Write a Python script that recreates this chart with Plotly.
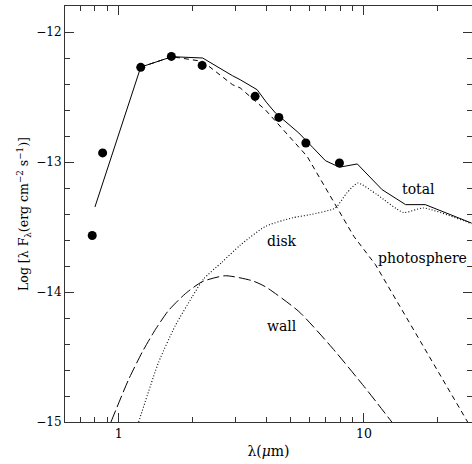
import numpy as np
import plotly.graph_objects as go

# Observed photometry
obs_wavelength = [0.78, 0.86, 1.23, 1.64, 2.19, 3.6, 4.5, 5.8, 7.95]
obs_logflux = [-13.565, -12.93, -12.272, -12.188, -12.257, -12.495, -12.657, -12.854, -13.008]

# Model: total
total_wavelength = [0.80, 1.23, 1.65, 2.2, 2.91, 3.13, 3.67, 4.0, 4.36, 5.0, 5.43, 6.2, 6.97, 7.95, 9.4, 11.87, 14.8, 17.8, 27.5]
total_logflux = [-13.346, -12.27, -12.19, -12.20, -12.336, -12.367, -12.444, -12.54, -12.623, -12.72, -12.777, -12.89, -12.99, -13.04, -13.015, -13.213, -13.328, -13.328, -13.47]

# Model: photosphere
phot_wavelength = [1.23, 1.65, 2.2, 2.91, 3.13, 3.97, 5.87, 9.1, 11.15, 26.5]
phot_logflux = [-12.27, -12.19, -12.226, -12.405, -12.43, -12.6, -12.957, -13.572, -13.79, -15.0]

# Model: disk
disk_wavelength = [1.206, 1.455, 1.70, 1.99, 2.22, 2.64, 3.13, 3.97, 5.1, 6.03, 7.64, 8.52, 9.45, 11.3, 14.5, 17.5, 27.5]
disk_logflux = [-15.0, -14.54, -14.26, -14.04, -13.90, -13.77, -13.64, -13.495, -13.43, -13.405, -13.354, -13.238, -13.162, -13.25, -13.388, -13.354, -13.475]

# Model: wall
wall_wavelength = [0.93, 1.097, 1.25, 1.41, 1.594, 1.87, 2.19, 2.72, 3.50, 3.97, 5.43, 7.43, 10.15, 13.0]
wall_logflux = [-15.0, -14.674, -14.459, -14.29, -14.144, -14.013, -13.921, -13.875, -13.913, -13.96, -14.15, -14.43, -14.74, -15.0]

x_major_ticks = [1, 10]
x_minor_ticks = [0.7, 0.8, 0.9, 2, 3, 4, 5, 6, 7, 8, 9, 20]
y_major_ticks = [-15, -14, -13, -12]

labels = ["total", "disk", "photosphere", "wall"]

FONT = "DejaVu Serif"
INK = "#000000"

fig = go.Figure()
fig.add_trace(go.Scatter(x=total_wavelength, y=total_logflux, mode="lines",
                         line=dict(color=INK, width=1), showlegend=False))
fig.add_trace(go.Scatter(x=phot_wavelength, y=phot_logflux, mode="lines",
                         line=dict(color=INK, width=1, dash="5px,4px"), showlegend=False))
fig.add_trace(go.Scatter(x=disk_wavelength, y=disk_logflux, mode="lines",
                         line=dict(color=INK, width=1.1, dash="1px,2px", shape="spline", smoothing=0.6),
                         showlegend=False))
fig.add_trace(go.Scatter(x=wall_wavelength, y=wall_logflux, mode="lines",
                         line=dict(color=INK, width=1, dash="12px,4px", shape="spline", smoothing=0.6),
                         showlegend=False))
fig.add_trace(go.Scatter(x=obs_wavelength, y=obs_logflux, mode="markers",
                         marker=dict(color=INK, size=9), showlegend=False))

label_pos = {"total": (16.7, -13.21), "disk": (4.65, -13.61),
             "photosphere": (17.4, -13.74), "wall": (4.65, -14.265)}
for lab in labels:
    lx, ly = label_pos[lab]
    fig.add_annotation(x=np.log10(lx), y=ly, text=lab, showarrow=False,
                       xref="x", yref="y", font=dict(family=FONT, size=14, color=INK))

fig.update_layout(
    width=472, height=464,
    margin=dict(l=65, r=0, t=6, b=42),
    paper_bgcolor="white", plot_bgcolor="white",
    font=dict(family=FONT, size=12, color=INK),
    xaxis=dict(type="log", range=[-0.219, 1.441],
               tickvals=x_major_ticks, ticktext=[str(v) for v in x_major_ticks],
               ticks="inside", ticklen=9, tickcolor="#333", tickwidth=1,
               minor=dict(tickvals=x_minor_ticks, ticks="inside", ticklen=5, tickcolor="#333"),
               showline=True, linecolor="#333", linewidth=1, mirror="allticks",
               showgrid=False, zeroline=False,
               tickfont=dict(family=FONT, size=12.5),
               title=dict(text="λ(<i>μ</i>m)", font=dict(family=FONT, size=14), standoff=6)),
    yaxis=dict(range=[-15, -11.8], tickvals=y_major_ticks,
               ticks="inside", ticklen=9, tickcolor="#333", tickwidth=1,
               minor=dict(dtick=0.2, ticks="inside", ticklen=5, tickcolor="#333"),
               showline=True, linecolor="#333", linewidth=1, mirror="allticks",
               showgrid=False, zeroline=False,
               tickfont=dict(family=FONT, size=12),
               title=dict(text="Log [λ F<sub>λ</sub>(erg cm<sup>−2</sup> s<sup>−1</sup>)]",
                          font=dict(family=FONT, size=12.5), standoff=4)),
)

fig.write_html("out.html", config={"displayModeBar": False},
               post_script="document.body.style.margin='0';document.body.style.overflow='hidden';")
